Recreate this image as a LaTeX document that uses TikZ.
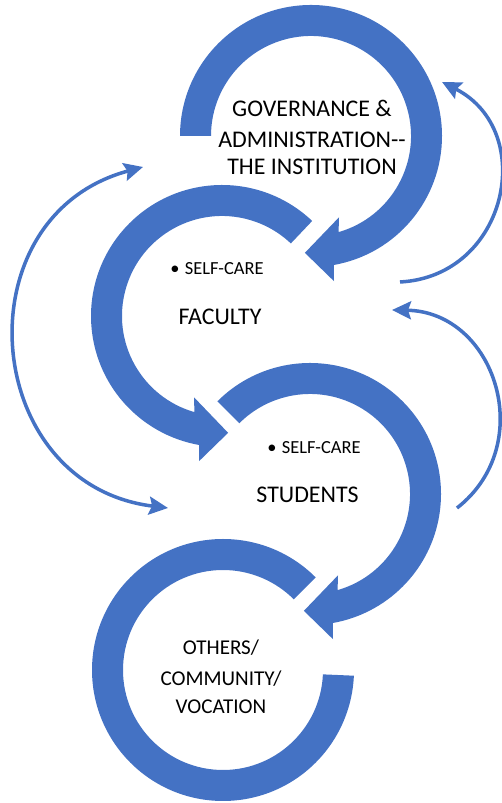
\documentclass[tikz,border=0pt]{standalone}
\usepackage{fontspec}
\setmainfont{Carlito}
\usetikzlibrary{arrows.meta}
\definecolor{ringblue}{RGB}{68,114,196}

\begin{document}
\begin{tikzpicture}[x=0.02cm, y=0.02cm,
    ring/.style={fill=ringblue},
    feedback/.style={draw=ringblue, line width=2pt},
    ringtext/.style={font=\fontsize{13.6}{15.6}\selectfont, align=center, inner sep=0pt},
    smalltext/.style={font=\fontsize{12}{15.6}\selectfont, align=center, inner sep=0pt},
    bullettext/.style={font=\fontsize{10.5}{12}\selectfont, inner sep=0pt, anchor=west},
    >={Stealth[length=3.8mm, width=3.6mm, inset=0.6mm]}]
    \useasboundingbox (0,0) rectangle (501,803);

    % Governance ring, clockwise
    \begin{scope}[shift={(311,667)}]
        \fill[ring] (180:131) arc[start angle=180, end angle=-80, radius=131]
            -- (-81:147) -- (-93:117) -- (-71:86) -- (-74:100)
            arc[start angle=-74, end angle=180, radius=100] -- cycle;
    \end{scope}

    % Faculty ring, counter-clockwise
    \begin{scope}[shift={(222,487)}]
        \fill[ring] (46.5:131) arc[start angle=46.5, end angle=260, radius=131]
            -- (261:147) -- (273:117) -- (251:86) -- (254:100)
            arc[start angle=254, end angle=46.5, radius=100] -- cycle;
    \end{scope}

    % Students ring, clockwise
    \begin{scope}[shift={(310,309)}]
        \fill[ring] (135:131) arc[start angle=135, end angle=-80, radius=131]
            -- (-81:147) -- (-93:117) -- (-71:86) -- (-74:100)
            arc[start angle=-74, end angle=135, radius=100] -- cycle;
    \end{scope}

    % Others ring, no head
    \begin{scope}[shift={(223,133)}]
        \fill[ring] (45:131) arc[start angle=45, end angle=357.5, radius=131]
            -- (357.5:100) arc[start angle=357.5, end angle=45, radius=100] -- cycle;
    \end{scope}

    % Labels
    \node[ringtext] (gov) at (312,665.5)
        {GOVERNANCE \&\\[2.3pt] ADMINISTRATION\mbox{-}\mbox{-}\\ THE INSTITUTION};
    \node[bullettext] (fac-care) at (170,534.5) {\textbullet\hspace{3pt}SELF-CARE};
    \node[ringtext] (fac) at (220,486.5) {FACULTY};
    \node[bullettext] (stu-care) at (267,355.5) {\textbullet\hspace{3pt}SELF-CARE};
    \node[ringtext] (stu) at (307.5,308) {STUDENTS};
    \node[smalltext] (oth) at (221,126.5) {OTHERS/\\[2.3pt] COMMUNITY/\\ VOCATION};

    % Ends of the feedback arrows
    \coordinate (left-top) at (143,636);
    \coordinate (left-bot) at (168,295);
    \coordinate (gov-fb-start) at (400,521);
    \coordinate (gov-fb-end) at (442,721);
    \coordinate (fac-fb-start) at (457,295);
    \coordinate (fac-fb-end) at (392,493);

    % Feedback arrows
    \draw[feedback, <->] (left-top) to[out=195, in=173, looseness=1.42] (left-bot);
    \draw[feedback, ->] (gov-fb-start) to[out=3, in=-27, looseness=1.35] (gov-fb-end);
    \draw[feedback, ->] (fac-fb-start) to[out=38, in=-1, looseness=1.27] (fac-fb-end);

\end{tikzpicture}
\end{document}
